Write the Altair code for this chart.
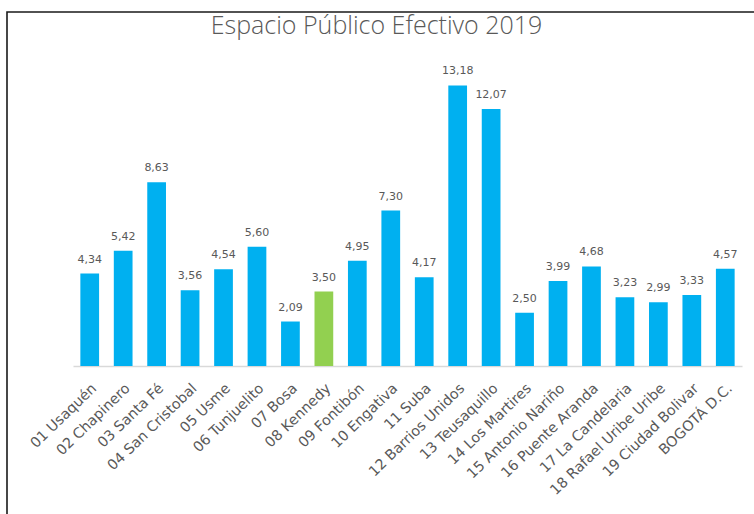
import altair as alt
import pandas as pd

districts = [
    "01 Usaquén", "02 Chapinero", "03 Santa Fé", "04 San Cristobal", "05 Usme",
    "06 Tunjuelito", "07 Bosa", "08 Kennedy", "09 Fontibón", "10 Engativa",
    "11 Suba", "12 Barrios Unidos", "13 Teusaquillo", "14 Los Martires",
    "15 Antonio Nariño", "16 Puente Aranda", "17 La Candelaria",
    "18 Rafael Uribe Uribe", "19 Ciudad Bolivar", "BOGOTÁ D.C.",
]
values = [4.34, 5.42, 8.63, 3.56, 4.54, 5.60, 2.09, 3.50, 4.95, 7.30,
          4.17, 13.18, 12.07, 2.50, 3.99, 4.68, 3.23, 2.99, 3.33, 4.57]
highlight = "08 Kennedy"

df = pd.DataFrame({"district": districts, "value": values})

BLUE = "#00B0F0"
GREEN = "#92D050"
TEXT = "#595959"

x_enc = alt.X(
    "district:N", sort=None, title=None,
    scale=alt.Scale(paddingInner=0.44, paddingOuter=0.22),
    axis=alt.Axis(labelAngle=-44, labelFont="DejaVu Sans", labelFontSize=14.3,
                  labelColor=TEXT, labelPadding=15, ticks=False,
                  domainColor="#D9D9D9", domainWidth=1.5, labelOverlap=False,
                  labelLimit=300),
)
y_enc = alt.Y("value:Q", scale=alt.Scale(domain=[0, 14]), axis=None)

base = alt.Chart(df).encode(x=x_enc, y=y_enc)

bars = base.mark_bar().encode(
    color=alt.condition(alt.datum.district == highlight, alt.value(GREEN), alt.value(BLUE))
)

labels = base.transform_calculate(
    lbl="replace(format(datum.value, '.2f'), '.', ',')"
).mark_text(dy=-11, baseline="alphabetic", font="DejaVu Sans", fontSize=11,
            color=TEXT).encode(text="lbl:N")

frame = alt.Chart(alt.Data(values=[{"a": 1}])).mark_rect(
    fillOpacity=0, stroke="#1A1A1A", strokeWidth=1.6
).encode(
    x=alt.value(-66), x2=alt.value(760), y=alt.value(-56), y2=alt.value(600)
)

chart = alt.layer(bars, labels, frame).properties(
    width=669, height=298,
    background="white",
    title=alt.TitleParams(
        "Espacio Público Efectivo 2019", font="Open Sans", fontSize=25,
        fontWeight=300, color=TEXT, anchor="middle", dx=-31,
        baseline="alphabetic", offset=-48,
    ),
    autosize=alt.AutoSizeParams(type="none"),
    padding={"left": 73, "top": 68, "right": 12, "bottom": 148},
).configure_view(strokeWidth=0, stroke="transparent")

chart.save("out.html", embed_options={"renderer": "svg", "actions": False})
